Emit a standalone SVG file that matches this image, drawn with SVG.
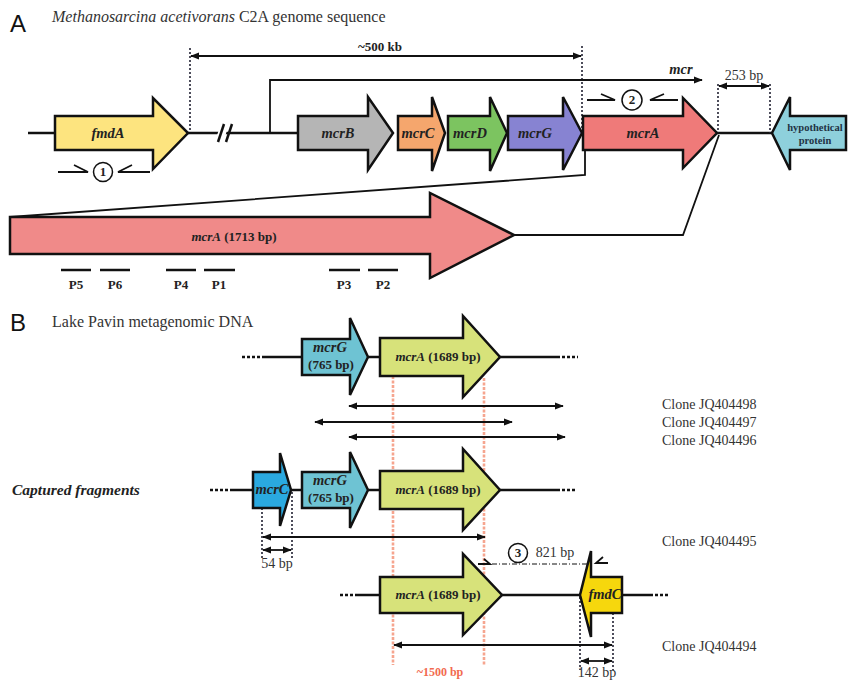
<svg xmlns="http://www.w3.org/2000/svg" width="848" height="680" viewBox="0 0 848 680">
<style>
.g{stroke:#111;stroke-width:2.5;stroke-linejoin:miter}
.ln{stroke:#111;stroke-width:2.5;fill:none}
.th{stroke:#111;stroke-width:1.8;fill:none}
.dot{stroke:#223;stroke-width:1.6;fill:none;stroke-dasharray:2 2}
.dots{stroke:#111;stroke-width:2.5;fill:none;stroke-dasharray:3 2}
.red{stroke:#f6a58f;stroke-width:2.6;fill:none;stroke-dasharray:3 1.5}
.gl{font-family:"Liberation Serif",serif;font-weight:bold;font-style:italic;font-size:14.5px;fill:#222;text-anchor:middle}
.bl{font-family:"Liberation Serif",serif;font-weight:bold;font-size:13px;fill:#222;text-anchor:middle}
.cl{font-family:"Liberation Serif",serif;font-size:14px;fill:#333}
.hd{font-family:"Liberation Sans",sans-serif;font-size:24px;fill:#111}
.tt{font-family:"Liberation Serif",serif;font-size:16px;fill:#333}
</style>
<defs>
<marker id="ah" viewBox="0 0 10 10" refX="9" refY="5" markerWidth="9" markerHeight="9" markerUnits="userSpaceOnUse" orient="auto-start-reverse"><path d="M0,1 L10,5 L0,9 z" fill="#111"/></marker>
</defs>
<rect width="848" height="680" fill="#fff"/>

<!-- Headers -->
<text class="hd" x="10" y="32">A</text>
<text class="tt" x="52" y="22"><tspan font-style="italic">Methanosarcina acetivorans</tspan> C2A genome sequence</text>
<text class="hd" x="10" y="331">B</text>
<text class="tt" x="52" y="327">Lake Pavin metagenomic DNA</text>
<text x="12" y="495" font-family="Liberation Serif,serif" font-weight="bold" font-style="italic" font-size="15.5" fill="#222">Captured fragments</text>

<!-- Connectors / lines -->
<g id="connectors">
  <line class="ln" x1="28" y1="133" x2="55" y2="133"/>
  <line class="ln" x1="188" y1="133" x2="298" y2="133"/>
  <line x1="219" y1="142" x2="225" y2="124" stroke="#fff" stroke-width="8"/>
  <line class="ln" x1="218" y1="142" x2="224" y2="124"/>
  <line class="ln" x1="226" y1="142" x2="232" y2="124"/>
  <line class="ln" x1="717" y1="133" x2="772" y2="133"/>
  <line class="dot" x1="190" y1="48" x2="190" y2="132"/>
  <line class="dot" x1="582" y1="46" x2="582" y2="133"/>
  <line class="th" x1="191" y1="56" x2="581" y2="56" marker-start="url(#ah)" marker-end="url(#ah)"/>
  <polyline class="th" points="270,133 270,80 702,80" marker-end="url(#ah)"/>
  <line class="dot" x1="718" y1="84" x2="718" y2="133"/>
  <line class="dot" x1="770" y1="84" x2="770" y2="133"/>
  <line class="th" x1="719" y1="86" x2="769" y2="86" marker-start="url(#ah)" marker-end="url(#ah)"/>
  <path class="th" d="M58,172 H88 L74,165"/>
  <path class="th" d="M150,172 H118 L132,165"/>
  <path class="th" d="M587,100 H615 L601,94"/>
  <path class="th" d="M678,100 H650 L664,94"/>
  <polyline class="th" points="585,133 585,175 10,217"/>
  <polyline class="th" points="514,235 683,235 719,135"/>
  <g stroke="#111" stroke-width="2.5">
    <line x1="61" y1="270" x2="91" y2="270"/>
    <line x1="100" y1="270" x2="130" y2="270"/>
    <line x1="166" y1="270" x2="196" y2="270"/>
    <line x1="204" y1="270" x2="235" y2="270"/>
    <line x1="329" y1="270" x2="360" y2="270"/>
    <line x1="368" y1="270" x2="398" y2="270"/>
  </g>

  <line class="dots" x1="242" y1="357" x2="263" y2="357"/>
  <line class="ln" x1="263" y1="357" x2="302" y2="357"/>
  <line class="ln" x1="368" y1="357" x2="380" y2="357"/>
  <line class="ln" x1="500" y1="357" x2="557" y2="357"/>
  <line class="dots" x1="557" y1="357" x2="578" y2="357"/>
  <line class="red" x1="393" y1="376" x2="393" y2="665"/>
  <line class="red" x1="484" y1="378" x2="484" y2="665"/>
  <line class="th" x1="349" y1="406" x2="563" y2="406" marker-start="url(#ah)" marker-end="url(#ah)"/>
  <line class="th" x1="315" y1="422" x2="512" y2="422" marker-start="url(#ah)" marker-end="url(#ah)"/>
  <line class="th" x1="349" y1="437" x2="565" y2="437" marker-start="url(#ah)" marker-end="url(#ah)"/>

  <line class="dots" x1="210" y1="490" x2="230" y2="490"/>
  <line class="ln" x1="230" y1="490" x2="253" y2="490"/>
  <line class="ln" x1="291" y1="490" x2="302" y2="490"/>
  <line class="ln" x1="368" y1="490" x2="380" y2="490"/>
  <line class="ln" x1="500" y1="490" x2="557" y2="490"/>
  <line class="dots" x1="557" y1="490" x2="575" y2="490"/>
  <line class="dot" x1="262" y1="508" x2="262" y2="560"/>
  <line class="dot" x1="292" y1="492" x2="292" y2="558"/>
  <line class="th" x1="263" y1="550" x2="291" y2="550" marker-start="url(#ah)" marker-end="url(#ah)"/>
  <line class="th" x1="263" y1="537" x2="485" y2="537" marker-start="url(#ah)" marker-end="url(#ah)"/>
  <path class="th" d="M478,564 H490 L484,559" stroke-width="1.5"/>
  <line x1="492" y1="564" x2="590" y2="564" stroke="#111" stroke-width="1.2" stroke-dasharray="5 2 1 2"/>
  <path class="th" d="M608,563 H596 L603,557" stroke-width="1.5"/>

  <line class="dots" x1="340" y1="595" x2="357" y2="595"/>
  <line class="ln" x1="357" y1="595" x2="380" y2="595"/>
  <line class="ln" x1="502" y1="595" x2="580" y2="595"/>
  <line class="ln" x1="622" y1="595" x2="650" y2="595"/>
  <line class="dots" x1="650" y1="595" x2="668" y2="595"/>
  <line class="dot" x1="580" y1="597" x2="580" y2="670"/>
  <line class="dot" x1="613" y1="613" x2="613" y2="670"/>
  <line class="th" x1="394" y1="645" x2="612" y2="645" marker-start="url(#ah)" marker-end="url(#ah)"/>
  <line class="th" x1="581" y1="661" x2="612" y2="661" marker-start="url(#ah)" marker-end="url(#ah)"/>
</g>

<g id="fmdA"><path class="g" fill="#fde47f" d="M55,116 H153 V98 L188,133 L153,169 V150 H55 Z"/><text class="gl" x="108" y="138">fmdA</text></g>
<g id="mcrB"><path class="g" fill="#b5b5b5" d="M298,116 H368 V97 L393,133 L368,170 V150 H298 Z"/><text class="gl" x="338" y="138">mcrB</text></g>
<g id="mcrC"><path class="g" fill="#f5a66d" d="M398,116 H432 V97 L445,133 L432,171 V150 H398 Z"/><text class="gl" x="418" y="138">mcrC</text></g>
<g id="mcrD"><path class="g" fill="#7cc460" d="M448,116 H490 V97 L507,133 L490,171 V150 H448 Z"/><text class="gl" x="470" y="138">mcrD</text></g>
<g id="mcrG"><path class="g" fill="#8783d2" d="M508,116 H563 V97 L582,133 L563,170 V150 H508 Z"/><text class="gl" x="535" y="138">mcrG</text></g>
<g id="mcrA"><path class="g" fill="#ef7a79" d="M583,116 H683 V98 L717,133 L683,168 V150 H583 Z"/><text class="gl" x="643" y="138">mcrA</text></g>
<g id="hypothetical"><path class="g" fill="#8ed0dc" d="M846,116 H790 V97 L772,133 L790,170 V150 H846 Z"/><text font-family="Liberation Serif,serif" font-weight="bold" font-size="10.5" fill="#234" text-anchor="middle"><tspan x="815" y="131">hypothetical</tspan><tspan x="815" y="144">protein</tspan></text></g>
<g id="primer1"><circle cx="103" cy="172" r="9.5" fill="#fff" stroke="#111" stroke-width="1.5"/><text class="bl" x="103" y="176" font-family="Liberation Sans,sans-serif" font-size="11">1</text></g>
<g id="primer2"><circle cx="632" cy="100" r="10" fill="#fff" stroke="#111" stroke-width="1.5"/><text class="bl" x="632" y="104" font-family="Liberation Sans,sans-serif" font-size="11">2</text></g>
<g id="labelsA">
  <text class="bl" x="380" y="51" font-size="12">~500 kb</text>
  <text class="gl" x="681" y="74" font-size="12">mcr</text>
  <text class="cl" x="744" y="80" text-anchor="middle" font-size="13">253 bp</text>
</g>
<g id="mcrA-big"><path class="g" fill="#f08a89" d="M10,217 H430 V193 L514,235 L430,278 V254 H10 Z"/><text class="bl" x="234" y="241" font-size="14.5"><tspan font-style="italic">mcrA</tspan> (1713 bp)</text></g>
<g id="P-labels">
  <text class="bl" x="76" y="289" font-size="12">P5</text>
  <text class="bl" x="115" y="289" font-size="12">P6</text>
  <text class="bl" x="181" y="289" font-size="12">P4</text>
  <text class="bl" x="219" y="289" font-size="12">P1</text>
  <text class="bl" x="344" y="289" font-size="12">P3</text>
  <text class="bl" x="383" y="289" font-size="12">P2</text>
</g>

<g id="r1-mcrG"><path class="g" fill="#6ec3d3" d="M302,339 H350 V318 L368,357 L350,395 V375 H302 Z"/><text class="gl" x="330" y="352" font-size="13">mcrG</text><text class="bl" x="331" y="369">(765 bp)</text></g>
<g id="r1-mcrA"><path class="g" fill="#d7e27a" d="M380,338 H463 V316 L500,357 L463,397 V376 H380 Z"/><text class="bl" x="438" y="361" font-size="13.5"><tspan font-style="italic">mcrA</tspan> (1689 bp)</text></g>

<g id="r2-mcrC"><path class="g" fill="#2aa9e0" d="M253,472 H280 V453 L291,490 L280,526 V508 H253 Z"/><text class="gl" x="272" y="494" font-size="13">mcrC</text></g>
<g id="r2-mcrG"><path class="g" fill="#6ec3d3" d="M302,472 H350 V452 L368,490 L350,528 V508 H302 Z"/><text class="gl" x="330" y="485" font-size="13">mcrG</text><text class="bl" x="331" y="502">(765 bp)</text></g>
<g id="r2-mcrA"><path class="g" fill="#d7e27a" d="M380,471 H463 V449 L500,490 L463,530 V509 H380 Z"/><text class="bl" x="438" y="494" font-size="13.5"><tspan font-style="italic">mcrA</tspan> (1689 bp)</text></g>

<g id="primer3"><circle cx="518" cy="553" r="9.5" fill="#fff" stroke="#111" stroke-width="1.5"/><text class="bl" x="518" y="557" font-family="Liberation Sans,sans-serif" font-size="11">3</text><text class="cl" x="555" y="557" text-anchor="middle" font-size="13">821 bp</text></g>

<g id="r3-mcrA"><path class="g" fill="#d7e27a" d="M380,577 H463 V554 L502,595 L463,635 V613 H380 Z"/><text class="bl" x="438" y="599" font-size="13.5"><tspan font-style="italic">mcrA</tspan> (1689 bp)</text></g>
<g id="r3-fmdC"><path class="g" fill="#f6d70d" d="M622,577 H591 V551 L580,595 L591,637 V613 H622 Z"/><text class="gl" x="605" y="599" font-size="13">fmdC</text></g>

<g id="labelsB">
  <text class="cl" x="662" y="409">Clone JQ404498</text>
  <text class="cl" x="662" y="427">Clone JQ404497</text>
  <text class="cl" x="662" y="445">Clone JQ404496</text>
  <text class="cl" x="662" y="546">Clone JQ404495</text>
  <text class="cl" x="662" y="651">Clone JQ404494</text>
  <text class="cl" x="277" y="568" text-anchor="middle" font-size="13">54 bp</text>
  <text class="cl" x="597" y="677" text-anchor="middle" font-size="13">142 bp</text>
  <text x="440" y="676" font-family="Liberation Serif,serif" font-weight="bold" font-size="12" fill="#f26a50" text-anchor="middle">~1500 bp</text>
</g>
</svg>
